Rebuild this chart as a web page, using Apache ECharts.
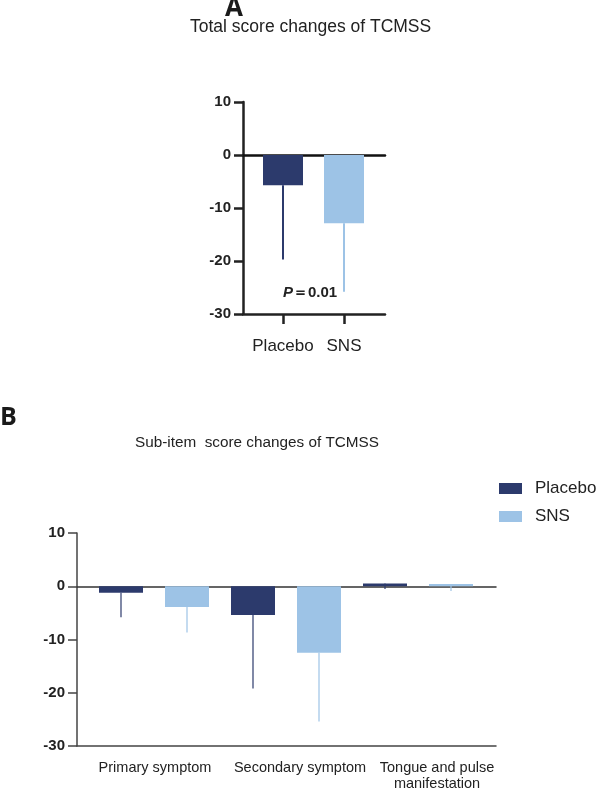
<!DOCTYPE html>
<html>
<head>
<meta charset="utf-8">
<script src="https://cdn.jsdelivr.net/npm/echarts@6/dist/echarts.min.js"></script>
<style>
html, body { margin: 0; padding: 0; background: #fff; }
#main { width: 597px; height: 792px; }
</style>
</head>
<body>
<div id="main"></div>
<script>
// panel A: total score
var catsA = ['Placebo', 'SNS'];
var meanA = [-5.7, -12.9];
var sdA = [14.0, 12.9];

// panel B: sub-items
var catsB = ['Primary symptom', 'Secondary symptom', 'Tongue and pulse\nmanifestation'];
var placeboMean = [-1.2, -5.4, 0.5];
var placeboSd = [4.6, 13.8, 1.0];
var snsMean = [-3.9, -12.5, 0.4];
var snsSd = [4.8, 12.9, 1.3];

var yTicks = { min: -30, max: 10, interval: 10 };

var NAVY = '#2c3a6c';
var LIGHT = '#9dc3e6';
var FONT = '"Liberation Sans", Arial, sans-serif';

function errData(means, sds) {
    return means.map(function (m, i) { return [i, m, m - sds[i]]; });
}

function errSeries(name, data, xi, yi, off, color, w) {
    return {
        name: name,
        type: 'custom',
        xAxisIndex: xi,
        yAxisIndex: yi,
        data: data,
        encode: { x: 0, y: [1, 2] },
        z: 1,
        renderItem: function (params, api) {
            var p1 = api.coord([api.value(0), api.value(1)]);
            var p2 = api.coord([api.value(0), api.value(2)]);
            var c = typeof color === 'function' ? color(params.dataIndex) : color;
            return {
                type: 'line',
                shape: { x1: p1[0] + off, y1: p1[1], x2: p2[0] + off, y2: p2[1] },
                style: { stroke: c, lineWidth: w }
            };
        }
    };
}

function frameX(grid, onZero, color, width) {
    return {
        type: 'category', gridIndex: grid, data: ['a', 'b'],
        axisLine: { show: true, onZero: onZero, lineStyle: { color: color, width: width } },
        axisTick: { show: false }, axisLabel: { show: false }, splitLine: { show: false }
    };
}

function valY(grid, show, lineW, color) {
    return {
        type: 'value', gridIndex: grid,
        min: yTicks.min, max: yTicks.max, interval: yTicks.interval,
        show: show,
        axisLine: { show: show, lineStyle: { color: color, width: lineW } },
        axisTick: { show: show, length: 9, lineStyle: { color: color, width: lineW } },
        axisLabel: { show: show, margin: 12, fontFamily: FONT, fontSize: 15, fontWeight: 'bold', color: '#222' },
        splitLine: { show: false }
    };
}

var myChart = echarts.init(document.getElementById('main'));

var option = {
    animation: false,
    backgroundColor: '#fff',
    title: [
        { text: 'Total score changes of TCMSS', left: 190, top: 18, padding: 0,
          textStyle: { fontFamily: FONT, fontSize: 17.5, fontWeight: 'normal', color: '#222' } },
        { text: 'Sub-item  score changes of TCMSS', left: 135, top: 435, padding: 0,
          textStyle: { fontFamily: FONT, fontSize: 15.3, fontWeight: 'normal', color: '#222' } }
    ],
    legend: {
        data: ['Placebo', 'SNS'],
        orient: 'vertical',
        left: 499, top: 480, padding: 0,
        itemWidth: 23, itemHeight: 11, itemGap: 11,
        icon: 'rect',
        textStyle: { fontFamily: FONT, fontSize: 17, color: '#222', padding: [0, 0, 0, 8] }
    },
    graphic: [
        { type: 'text', left: 225, top: -4, style: { text: 'A', font: 'bold 26px "Open Sans", sans-serif', fill: '#1a1a1a' } },
        { type: 'text', left: 0, top: 405, style: { text: 'B', font: 'bold 25px "Open Sans", sans-serif', fill: '#1a1a1a' } },
        { type: 'text', x: 283, y: 293, style: {
            text: '{i|P}{n|\uFF1D0.01}', verticalAlign: 'middle',
            rich: {
                i: { fontFamily: FONT, fontSize: 15, fontWeight: 'bold', fontStyle: 'italic', fill: '#222' },
                n: { fontFamily: FONT, fontSize: 15, fontWeight: 'bold', fill: '#222' }
            } } }
    ],
    grid: [
        { left: 243, width: 142, top: 102, height: 212 },
        { left: 252.5, width: 122, top: 102, height: 212 },
        { left: 77, width: 419, top: 533, height: 213 },
        { left: 88, width: 396, top: 533, height: 213 }
    ],
    xAxis: [
        frameX(0, false, '#222', 2.5),
        frameX(0, true, '#111', 2.5),
        {
            type: 'category', gridIndex: 1, data: catsA,
            axisLine: { show: false, onZero: false },
            axisTick: { show: true, alignWithLabel: true, length: 10, lineStyle: { color: '#222', width: 2.5 } },
            axisLabel: { interval: 0, margin: 24, fontFamily: FONT, fontSize: 17, color: '#222' }
        },
        frameX(2, false, '#444', 1.5),
        frameX(2, true, '#333', 1.5),
        {
            type: 'category', gridIndex: 3, data: catsB,
            axisLine: { show: false, onZero: false },
            axisTick: { show: false },
            axisLabel: {
                interval: 0, margin: 14,
                formatter: function (v, i) { return '{c' + i + '|' + v + '}'; },
                rich: {
                    c0: { fontFamily: FONT, fontSize: 14.5, lineHeight: 16, color: '#222', padding: [0, 0, 0, 2] },
                    c1: { fontFamily: FONT, fontSize: 14.5, lineHeight: 16, color: '#222', padding: [0, 0, 0, 28] },
                    c2: { fontFamily: FONT, fontSize: 14.5, lineHeight: 16, color: '#222', padding: [0, 0, 0, 38] }
                }
            }
        }
    ],
    yAxis: [
        valY(0, true, 2.5, '#222'),
        valY(1, false, 1, '#222'),
        valY(2, true, 1.5, '#444'),
        valY(3, false, 1, '#444')
    ],
    series: [
        {
            name: 'Total', type: 'bar', xAxisIndex: 2, yAxisIndex: 1, barWidth: 40, z: 2,
            data: meanA.map(function (v, i) {
                return { value: v, itemStyle: { color: i === 0 ? NAVY : LIGHT } };
            })
        },
        errSeries('TotalErr', errData(meanA, sdA), 2, 1, 0, function (i) { return i === 0 ? NAVY : LIGHT; }, 2),
        {
            name: 'Placebo', type: 'bar', xAxisIndex: 5, yAxisIndex: 3,
            barWidth: 44, barGap: '50%', z: 2,
            itemStyle: { color: NAVY }, data: placeboMean
        },
        {
            name: 'SNS', type: 'bar', xAxisIndex: 5, yAxisIndex: 3,
            barWidth: 44, barGap: '50%', z: 2,
            itemStyle: { color: LIGHT }, data: snsMean
        },
        errSeries('PlaceboErr', errData(placeboMean, placeboSd), 5, 3, -33, NAVY, 1.2),
        errSeries('SNSErr', errData(snsMean, snsSd), 5, 3, 33, LIGHT, 1.2)
    ]
};

myChart.setOption(option);
</script>
</body>
</html>
